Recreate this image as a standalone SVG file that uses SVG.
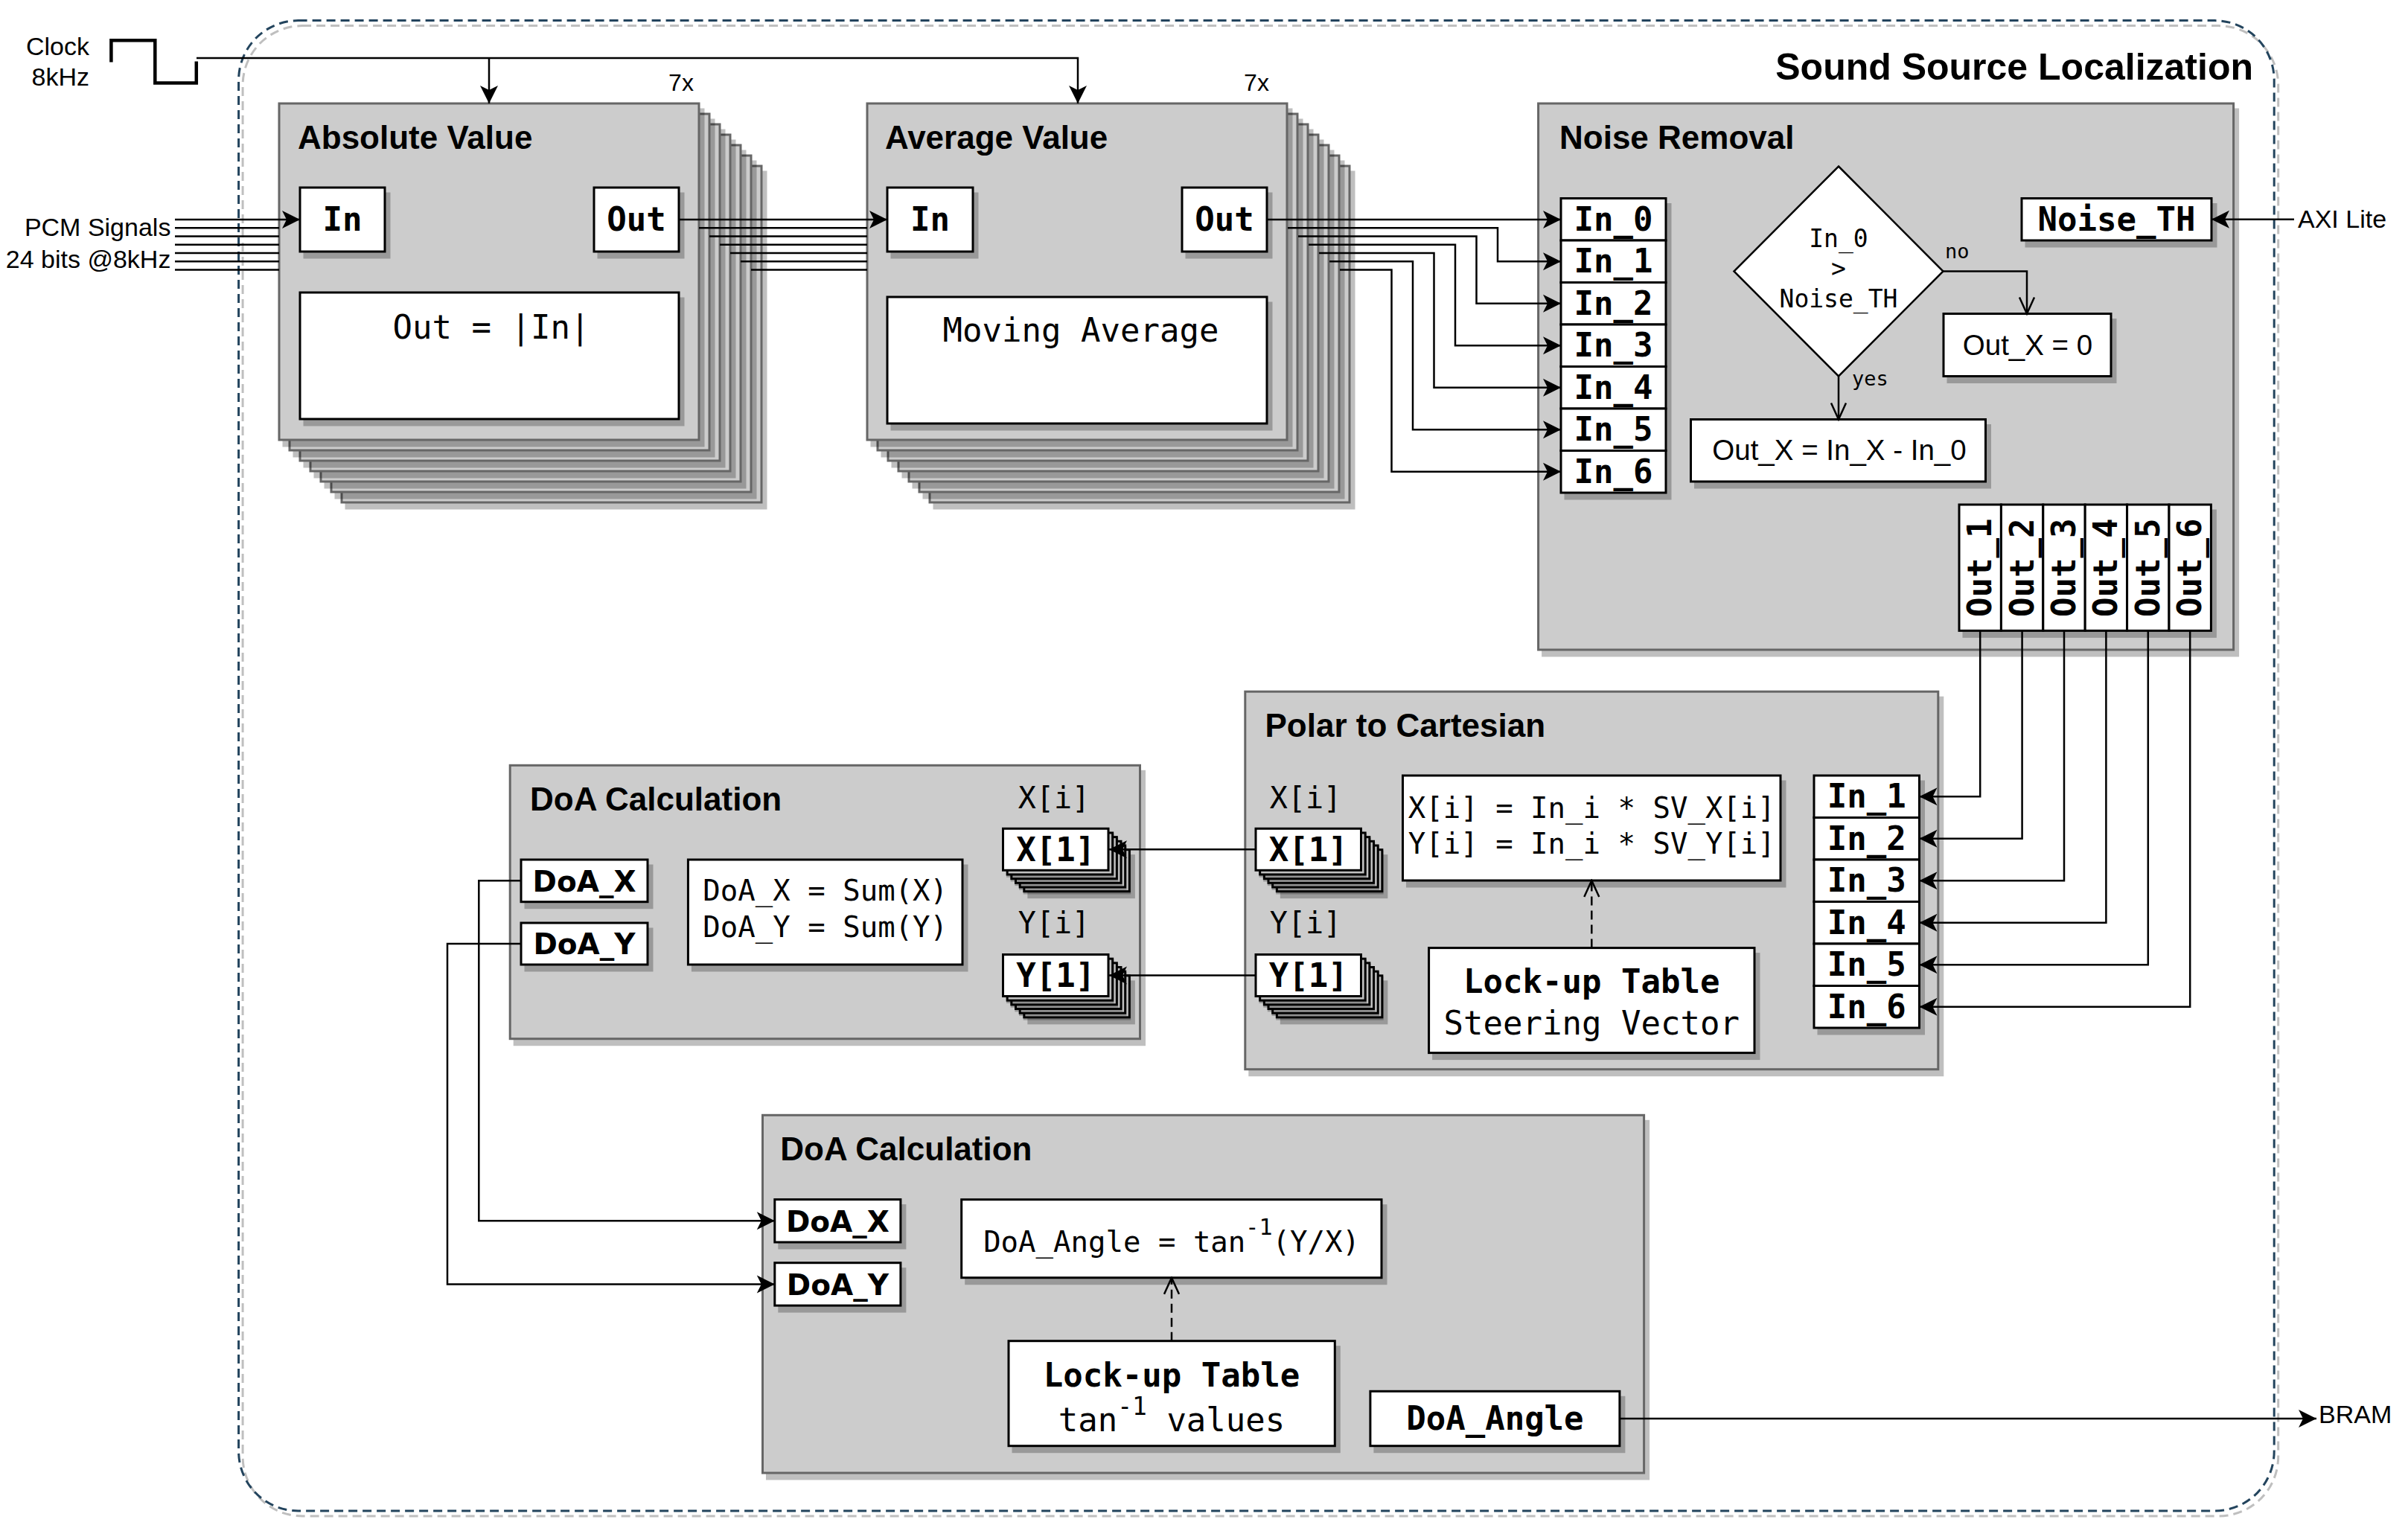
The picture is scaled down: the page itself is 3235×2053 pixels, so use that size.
<svg xmlns="http://www.w3.org/2000/svg" xmlns:xlink="http://www.w3.org/1999/xlink" width="3235" height="2053" viewBox="0 0 3235 2053">
<defs>
<style>
.cont{fill:#cccccc;stroke:#666666;stroke-width:3}
.box{fill:#ffffff;stroke:#000000;stroke-width:3}
.sh{fill:#000000;fill-opacity:0.25;stroke:none}
.ttl{font-family:"Liberation Sans",Arial,sans-serif;font-weight:bold;font-size:44px;fill:#000}
.lbl{font-family:"Liberation Sans",Arial,sans-serif;font-size:34px;fill:#000}
.mono{font-family:"DejaVu Sans Mono","Liberation Mono",monospace;fill:#000}
.pb{font-family:"DejaVu Sans Mono","Liberation Mono",monospace;font-weight:bold;font-size:44px;text-anchor:middle;fill:#000}
.pbs{font-family:"DejaVu Sans","Liberation Sans",sans-serif;font-weight:bold;font-size:39px;text-anchor:middle;fill:#000}
.wire{fill:none;stroke:#000000;stroke-width:2.5}
.dash{stroke-dasharray:12 7}
.mid{text-anchor:middle}
</style>
<marker id="arr" markerUnits="userSpaceOnUse" markerWidth="28" markerHeight="28" viewBox="-26 -14 28 28" refX="0" refY="0" orient="auto"><path d="M0,0 L-24,-12 L-18,0 L-24,12 Z" fill="#000"/></marker>
<marker id="opn" markerUnits="userSpaceOnUse" markerWidth="28" markerHeight="28" viewBox="-26 -14 28 28" refX="0" refY="0" orient="auto"><path d="M-22,-10 L0,0 L-22,10" fill="none" stroke="#000" stroke-width="2.5"/></marker>
<g id="bigCopy"><rect class="sh" x="4.5" y="6.5" width="567" height="455"/><rect class="cont" x="0" y="0" width="564" height="452"/></g>
<g id="smCopy"><rect class="sh" x="4.5" y="6.5" width="144.5" height="59"/><rect class="box" x="0" y="0" width="141.5" height="56"/></g>
</defs>
<rect x="0" y="0" width="3235" height="2053" fill="#ffffff"/>

<g id="container">
<rect x="326.1" y="34.6" width="2734.6" height="2002.4" rx="80" fill="none" stroke="#000" stroke-opacity="0.25" stroke-width="3" stroke-dasharray="12 7"/>
<rect x="320.6" y="27.6" width="2734.6" height="2002.4" rx="80" fill="none" stroke="#23445d" stroke-width="3" stroke-dasharray="12 7"/>
<text class="ttl" x="3027" y="107" style="text-anchor:end;font-size:50px">Sound Source Localization</text>
</g>

<g id="clock">
<text class="lbl" x="120" y="73.5" style="text-anchor:end">Clock</text>
<text class="lbl" x="120" y="115" style="text-anchor:end">8kHz</text>
<polyline points="149.4,83.6 149.4,54.2 208.3,54.2 208.3,111.6 263.8,111.6 263.8,82.6" fill="none" stroke="#000" stroke-width="4.5"/>
</g>

<g id="pcm">
<text class="lbl" x="229.4" y="316.8" style="text-anchor:end">PCM Signals</text>
<text class="lbl" x="229.4" y="360.4" style="text-anchor:end">24 bits @8kHz</text>
</g>

<g id="absolute-value">
<use xlink:href="#bigCopy" x="459" y="223"/>
<use xlink:href="#bigCopy" x="445" y="209"/>
<use xlink:href="#bigCopy" x="431" y="195"/>
<use xlink:href="#bigCopy" x="417" y="181"/>
<use xlink:href="#bigCopy" x="403" y="167"/>
<use xlink:href="#bigCopy" x="389" y="153"/>
<use xlink:href="#bigCopy" x="375" y="139"/>
<text class="ttl" x="400" y="200">Absolute Value</text>
<rect class="sh" x="407.5" y="258.5" width="117" height="89"/>
<rect class="box" x="403" y="252" width="114" height="86"/>
<text class="pb" x="460" y="310">In</text>
<rect class="sh" x="802.5" y="258.5" width="117" height="89"/>
<rect class="box" x="798" y="252" width="114" height="86"/>
<text class="pb" x="855" y="310">Out</text>
<rect class="sh" x="407.5" y="399.5" width="512" height="173"/>
<rect class="box" x="403" y="393" width="509" height="170"/>
<text class="mono mid" x="660" y="455" font-size="44">Out = |In|</text>
<text class="lbl mid" x="915" y="122" style="font-size:32px">7x</text>
</g>

<g id="average-value">
<use xlink:href="#bigCopy" x="1249" y="223"/>
<use xlink:href="#bigCopy" x="1235" y="209"/>
<use xlink:href="#bigCopy" x="1221" y="195"/>
<use xlink:href="#bigCopy" x="1207" y="181"/>
<use xlink:href="#bigCopy" x="1193" y="167"/>
<use xlink:href="#bigCopy" x="1179" y="153"/>
<use xlink:href="#bigCopy" x="1165" y="139"/>
<text class="ttl" x="1189" y="200">Average Value</text>
<rect class="sh" x="1196.5" y="258.5" width="118" height="89"/>
<rect class="box" x="1192" y="252" width="115" height="86"/>
<text class="pb" x="1249.5" y="310">In</text>
<rect class="sh" x="1592.5" y="258.5" width="117" height="89"/>
<rect class="box" x="1588" y="252" width="114" height="86"/>
<text class="pb" x="1645" y="310">Out</text>
<rect class="sh" x="1196.5" y="405.5" width="513" height="173"/>
<rect class="box" x="1192" y="399" width="510" height="170"/>
<text class="mono mid" x="1452" y="459" font-size="44">Moving Average</text>
<text class="lbl mid" x="1688" y="122" style="font-size:32px">7x</text>
</g>

<g id="noise-removal">
<rect class="sh" x="2071.1" y="145.5" width="937" height="737"/>
<rect class="cont" x="2066.6" y="139" width="934" height="734"/>
<text class="ttl" x="2095" y="200">Noise Removal</text>
<rect class="sh" x="2101.5" y="273" width="144" height="398.5"/>
<rect class="box" x="2097" y="266.5" width="141" height="56.5"/>
<rect class="box" x="2097" y="323" width="141" height="56.5"/>
<rect class="box" x="2097" y="379.5" width="141" height="56.5"/>
<rect class="box" x="2097" y="436" width="141" height="56.5"/>
<rect class="box" x="2097" y="492.5" width="141" height="56.5"/>
<rect class="box" x="2097" y="549" width="141" height="56.5"/>
<rect class="box" x="2097" y="605.5" width="141" height="56.5"/>
<text class="pb" x="2167.5" y="309.5">In_0</text>
<text class="pb" x="2167.5" y="366">In_1</text>
<text class="pb" x="2167.5" y="422.5">In_2</text>
<text class="pb" x="2167.5" y="479">In_3</text>
<text class="pb" x="2167.5" y="535.5">In_4</text>
<text class="pb" x="2167.5" y="592">In_5</text>
<text class="pb" x="2167.5" y="648.5">In_6</text>
<polygon points="2470,223.5 2610.5,364.5 2470,505.5 2329.5,364.5" fill="#fff" stroke="#000" stroke-width="2.5"/>
<text class="mono mid" x="2470" y="332" font-size="33">In_0</text>
<text class="mono mid" x="2470" y="372" font-size="33">&gt;</text>
<text class="mono mid" x="2470" y="413" font-size="33">Noise_TH</text>
<text class="mono" x="2613" y="347" font-size="27">no</text>
<text class="mono" x="2488" y="518" font-size="27">yes</text>
<rect class="sh" x="2615.5" y="428" width="228" height="87"/>
<rect class="box" x="2611" y="421.5" width="225" height="84"/>
<text class="lbl mid" x="2724" y="477" style="font-size:38.5px">Out_X = 0</text>
<rect class="sh" x="2276" y="570" width="399" height="86.5"/>
<rect class="box" x="2271.5" y="563.5" width="396" height="83.5"/>
<text class="lbl mid" x="2471" y="618" style="font-size:38.5px">Out_X = In_X - In_0</text>
<rect class="sh" x="2720.5" y="273" width="258" height="59.5"/>
<rect class="box" x="2716" y="266.5" width="255" height="56.5"/>
<text class="pb" x="2843.5" y="309.5">Noise_TH</text>
<rect class="sh" x="2636.5" y="684.5" width="341.4" height="172.4"/>
<rect class="box" x="2632" y="678" width="56.4" height="169.4"/>
<rect class="box" x="2688.4" y="678" width="56.4" height="169.4"/>
<rect class="box" x="2744.8" y="678" width="56.4" height="169.4"/>
<rect class="box" x="2801.2" y="678" width="56.4" height="169.4"/>
<rect class="box" x="2857.6" y="678" width="56.4" height="169.4"/>
<rect class="box" x="2914" y="678" width="56.4" height="169.4"/>
<text class="pb" transform="translate(2660.2,762.7) rotate(-90)" x="0" y="15">Out_1</text>
<text class="pb" transform="translate(2716.6,762.7) rotate(-90)" x="0" y="15">Out_2</text>
<text class="pb" transform="translate(2773,762.7) rotate(-90)" x="0" y="15">Out_3</text>
<text class="pb" transform="translate(2829.4,762.7) rotate(-90)" x="0" y="15">Out_4</text>
<text class="pb" transform="translate(2885.8,762.7) rotate(-90)" x="0" y="15">Out_5</text>
<text class="pb" transform="translate(2942.2,762.7) rotate(-90)" x="0" y="15">Out_6</text>
</g>

<g id="axi-lite">
<text class="lbl" x="3087" y="306">AXI Lite</text>
</g>

<g id="polar-to-cartesian">
<rect class="sh" x="1677.3" y="935.7" width="934" height="510.5"/>
<rect class="cont" x="1672.8" y="929.2" width="931" height="507.5"/>
<text class="ttl" x="1699.5" y="990">Polar to Cartesian</text>
<text class="mono mid" x="1754" y="1086" font-size="40">X[i]</text>
<text class="mono mid" x="1754" y="1254" font-size="40">Y[i]</text>
<use xlink:href="#smCopy" x="1715.35" y="1141.65"/>
<use xlink:href="#smCopy" x="1709.68" y="1135.98"/>
<use xlink:href="#smCopy" x="1704" y="1130.3"/>
<use xlink:href="#smCopy" x="1698.34" y="1124.64"/>
<use xlink:href="#smCopy" x="1692.67" y="1118.97"/>
<use xlink:href="#smCopy" x="1687" y="1113.3"/>
<text class="pb" x="1757.75" y="1156.5">X[1]</text>
<use xlink:href="#smCopy" x="1715.35" y="1310.85"/>
<use xlink:href="#smCopy" x="1709.68" y="1305.18"/>
<use xlink:href="#smCopy" x="1704" y="1299.5"/>
<use xlink:href="#smCopy" x="1698.34" y="1293.84"/>
<use xlink:href="#smCopy" x="1692.67" y="1288.17"/>
<use xlink:href="#smCopy" x="1687" y="1282.5"/>
<text class="pb" x="1757.75" y="1325.7">Y[1]</text>
<rect class="sh" x="1889" y="1048.5" width="510.5" height="144"/>
<rect class="box" x="1884.5" y="1042" width="507.5" height="141"/>
<text class="mono mid" x="2138.3" y="1099" font-size="39">X[i] = In_i * SV_X[i]</text>
<text class="mono mid" x="2138.3" y="1147" font-size="39">Y[i] = In_i * SV_Y[i]</text>
<rect class="sh" x="1924.1" y="1280.1" width="440.4" height="144"/>
<rect class="box" x="1919.6" y="1273.6" width="437.4" height="141"/>
<text class="pb" x="2138.3" y="1334">Lock-up Table</text>
<text class="mono mid" x="2138.3" y="1390" font-size="44">Steering Vector</text>
<rect class="sh" x="2441.5" y="1048.5" width="144.5" height="342"/>
<rect class="box" x="2437" y="1042" width="141.5" height="56.5"/>
<rect class="box" x="2437" y="1098.5" width="141.5" height="56.5"/>
<rect class="box" x="2437" y="1155" width="141.5" height="56.5"/>
<rect class="box" x="2437" y="1211.5" width="141.5" height="56.5"/>
<rect class="box" x="2437" y="1268" width="141.5" height="56.5"/>
<rect class="box" x="2437" y="1324.5" width="141.5" height="56.5"/>
<text class="pb" x="2507.75" y="1085">In_1</text>
<text class="pb" x="2507.75" y="1141.5">In_2</text>
<text class="pb" x="2507.75" y="1198">In_3</text>
<text class="pb" x="2507.75" y="1254.5">In_4</text>
<text class="pb" x="2507.75" y="1311">In_5</text>
<text class="pb" x="2507.75" y="1367.5">In_6</text>
</g>

<g id="doa-calculation-1">
<rect class="sh" x="689.7" y="1034.8" width="849.3" height="370.4"/>
<rect class="cont" x="685.2" y="1028.3" width="846.3" height="367.4"/>
<text class="ttl" x="712" y="1088.5">DoA Calculation</text>
<text class="mono mid" x="1416" y="1086" font-size="40">X[i]</text>
<text class="mono mid" x="1416" y="1254" font-size="40">Y[i]</text>
<use xlink:href="#smCopy" x="1375.85" y="1141.65"/>
<use xlink:href="#smCopy" x="1370.18" y="1135.98"/>
<use xlink:href="#smCopy" x="1364.5" y="1130.3"/>
<use xlink:href="#smCopy" x="1358.84" y="1124.64"/>
<use xlink:href="#smCopy" x="1353.17" y="1118.97"/>
<use xlink:href="#smCopy" x="1347.5" y="1113.3"/>
<text class="pb" x="1418.25" y="1156.5">X[1]</text>
<use xlink:href="#smCopy" x="1375.85" y="1310.85"/>
<use xlink:href="#smCopy" x="1370.18" y="1305.18"/>
<use xlink:href="#smCopy" x="1364.5" y="1299.5"/>
<use xlink:href="#smCopy" x="1358.84" y="1293.84"/>
<use xlink:href="#smCopy" x="1353.17" y="1288.17"/>
<use xlink:href="#smCopy" x="1347.5" y="1282.5"/>
<text class="pb" x="1418.25" y="1325.7">Y[1]</text>
<rect class="sh" x="704.5" y="1161.5" width="173" height="59.7"/>
<rect class="box" x="700" y="1155" width="170" height="56.7"/>
<text class="pbs" x="785" y="1197.5">DoA_X</text>
<rect class="sh" x="704.5" y="1246.5" width="173" height="59"/>
<rect class="box" x="700" y="1240" width="170" height="56"/>
<text class="pbs" x="785" y="1282">DoA_Y</text>
<rect class="sh" x="928.9" y="1161.5" width="371.6" height="144"/>
<rect class="box" x="924.4" y="1155" width="368.6" height="141"/>
<text class="mono mid" x="1108.7" y="1210" font-size="39">DoA_X = Sum(X)</text>
<text class="mono mid" x="1108.7" y="1259" font-size="39">DoA_Y = Sum(Y)</text>
</g>

<g id="doa-calculation-2">
<rect class="sh" x="1029" y="1504.8" width="1187.1" height="483.7"/>
<rect class="cont" x="1024.5" y="1498.3" width="1184.1" height="480.7"/>
<text class="ttl" x="1048.3" y="1559">DoA Calculation</text>
<rect class="sh" x="1045.3" y="1618.1" width="172.1" height="60.4"/>
<rect class="box" x="1040.8" y="1611.6" width="169.1" height="57.4"/>
<text class="pbs" x="1125.4" y="1654.5">DoA_X</text>
<rect class="sh" x="1045.3" y="1703.2" width="172.1" height="60.4"/>
<rect class="box" x="1040.8" y="1696.7" width="169.1" height="57.4"/>
<text class="pbs" x="1125.4" y="1739.6">DoA_Y</text>
<rect class="sh" x="1296.2" y="1618.2" width="567.3" height="108"/>
<rect class="box" x="1291.7" y="1611.7" width="564.3" height="105"/>
<text class="mono mid" x="1574" y="1681.7" font-size="39">DoA_Angle = tan<tspan font-size="30" dy="-23">-1</tspan><tspan dy="23">(Y/X)</tspan></text>
<rect class="sh" x="1359.5" y="1808.2" width="441.3" height="144"/>
<rect class="box" x="1355" y="1801.7" width="438.3" height="141"/>
<text class="pb" x="1574" y="1863.3">Lock-up Table</text>
<text class="mono mid" x="1574" y="1923.3" font-size="44">tan<tspan font-size="33" dy="-22">-1</tspan><tspan dy="22"> values</tspan></text>
<rect class="sh" x="1845.4" y="1875.8" width="338" height="76.4"/>
<rect class="box" x="1840.9" y="1869.3" width="335" height="73.4"/>
<text class="pb" x="2008.4" y="1921">DoA_Angle</text>
</g>

<g id="bram">
<text class="lbl" x="3115" y="1912">BRAM</text>
</g>

<g id="connectors">
<path class="wire" d="M264,78 H1448 V139" marker-end="url(#arr)"/>
<path class="wire" d="M657,78 V139" marker-end="url(#arr)"/>
<path class="wire" d="M235,295 H403" marker-end="url(#arr)"/>
<path class="wire" d="M235,306.25 H375 M235,317.5 H375 M235,328.75 H375 M235,340 H375 M235,351.25 H375 M235,362.5 H375"/>
<path class="wire" d="M912,295 H1192" marker-end="url(#arr)"/>
<path class="wire" d="M939,306.25 H1165 M953,317.5 H1165 M967,328.75 H1165 M981,340 H1165 M995,351.25 H1165 M1009,362.5 H1165"/>
<path class="wire" d="M1702,295 H2097" marker-end="url(#arr)"/>
<path class="wire" d="M1730,306.25 H2012 V351.25 H2097" marker-end="url(#arr)"/>
<path class="wire" d="M1744,317.5 H1983.5 V407.75 H2097" marker-end="url(#arr)"/>
<path class="wire" d="M1758,328.75 H1955 V464.25 H2097" marker-end="url(#arr)"/>
<path class="wire" d="M1772,340 H1926.5 V520.75 H2097" marker-end="url(#arr)"/>
<path class="wire" d="M1786,351.25 H1898 V577.25 H2097" marker-end="url(#arr)"/>
<path class="wire" d="M1800,362.5 H1869.5 V633.75 H2097" marker-end="url(#arr)"/>
<path class="wire" d="M2610.5,364.5 H2723 V421.5" marker-end="url(#opn)"/>
<path class="wire" d="M2470,505.5 V563.5" marker-end="url(#opn)"/>
<path class="wire" d="M3082,294.75 H2971" marker-end="url(#arr)"/>
<path class="wire" d="M2660.2,847.4 V1070.25 H2578.5" marker-end="url(#arr)"/>
<path class="wire" d="M2716.6,847.4 V1126.75 H2578.5" marker-end="url(#arr)"/>
<path class="wire" d="M2773,847.4 V1183.25 H2578.5" marker-end="url(#arr)"/>
<path class="wire" d="M2829.4,847.4 V1239.75 H2578.5" marker-end="url(#arr)"/>
<path class="wire" d="M2885.8,847.4 V1296.25 H2578.5" marker-end="url(#arr)"/>
<path class="wire" d="M2942.2,847.4 V1352.75 H2578.5" marker-end="url(#arr)"/>
<path class="wire dash" d="M2138.3,1273.6 V1183" marker-end="url(#opn)"/>
<path class="wire" d="M1687,1141.3 H1490" marker-end="url(#arr)"/>
<path class="wire" d="M1687,1310.5 H1490" marker-end="url(#arr)"/>
<path class="wire" d="M700,1183.3 H643.3 V1640.3 H1040.8" marker-end="url(#arr)"/>
<path class="wire" d="M700,1268 H601 V1725.4 H1040.8" marker-end="url(#arr)"/>
<path class="wire dash" d="M1574,1801.7 V1716.7" marker-end="url(#opn)"/>
<path class="wire" d="M2175.9,1906 H3112" marker-end="url(#arr)"/>
</g>
</svg>
